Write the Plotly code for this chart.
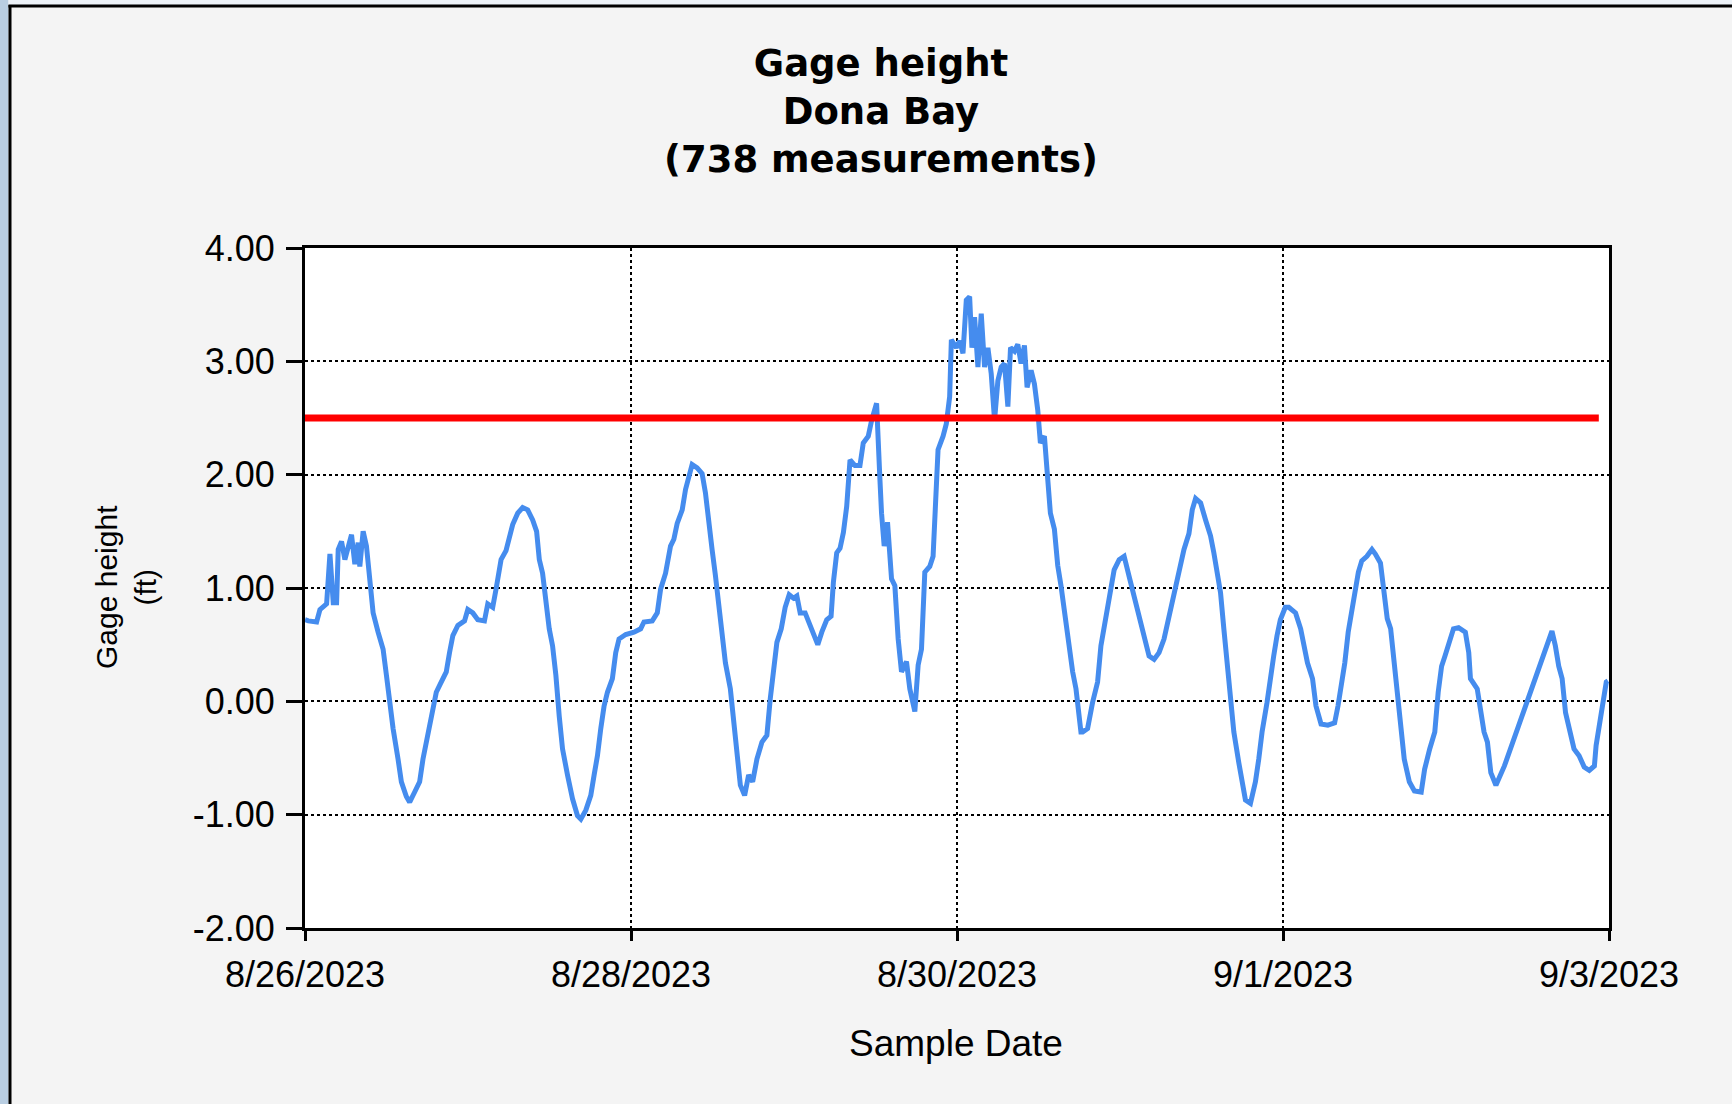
import pandas as pd
import plotly.graph_objects as go

# ---------------- data ----------------
start_time = "2023-08-26 00:00"

# elapsed hours since start_time for each plotted reading
hours = [
    0.0, 0.49, 1.71, 2.20, 3.18, 3.67, 4.16, 4.65, 4.89, 5.38, 5.87, 6.85, 7.34, 7.83, 8.07, 8.56,
    9.05, 9.54, 10.03, 10.76, 11.50, 11.99, 12.48, 12.97, 13.70, 14.19, 14.92, 15.41, 16.15, 16.88,
    17.37, 18.10, 18.59, 19.33, 19.82, 20.80, 21.28, 21.77, 22.51, 23.49, 23.97, 24.71, 25.44, 26.42,
    26.91, 27.64, 28.13, 28.87, 29.60, 30.09, 30.58, 31.32, 32.05, 32.78, 33.52, 34.10, 34.50, 34.98,
    35.47, 35.96, 36.45, 36.94, 37.43,
    37.92, 38.65, 39.39, 40.12, 40.61, 41.35, 42.08, 42.57, 43.06, 43.55, 44.04, 44.53, 45.26, 45.75,
    46.24, 47.22, 48.44, 49.42, 49.91, 51.13, 51.87, 52.36, 53.09, 53.82, 54.31, 54.80, 55.54, 56.03,
    56.51, 57.00, 57.74, 58.47, 58.96, 59.45, 59.94, 60.43, 60.92, 61.41, 61.90, 62.63, 63.12, 63.61,
    64.10, 64.73, 65.32, 65.91, 66.54, 67.28, 68.01, 68.50, 68.99, 69.48, 70.12, 70.70, 71.29, 71.93,
    72.42, 72.91, 73.64, 74.13, 74.86, 75.50, 76.09, 76.82, 77.46, 77.80, 78.29,
    78.78, 79.27, 79.76, 80.25, 80.98, 81.71, 82.20, 82.94, 83.43, 84.16, 84.40, 84.65, 84.89, 85.28,
    85.77, 86.12, 86.36, 86.85, 87.34, 87.83, 88.56, 89.05, 89.79, 90.28, 90.77, 91.26, 91.99, 92.48,
    92.82, 93.21, 93.95, 94.43, 94.92, 95.17, 95.90, 96.39, 96.88, 97.37, 97.86, 98.20, 98.59, 99.08,
    99.57, 100.06, 100.55, 101.04, 101.53, 102.02, 102.51, 103.00, 103.49, 103.88, 104.47, 104.95,
    105.44, 105.93, 106.32, 106.91, 107.40, 107.89, 108.28, 108.87, 109.36, 109.75, 110.34, 110.83,
    111.31, 111.90, 112.29, 113.03, 113.52, 114.25,
    114.50, 115.23, 115.96, 116.70, 117.19, 117.68, 118.17, 118.66, 119.14, 119.88, 120.61, 121.35,
    122.08, 122.81, 123.55, 124.28, 125.02, 125.75, 126.48, 127.22, 127.95, 128.69, 129.42, 130.15,
    130.64, 131.13, 131.87, 132.60, 133.33, 133.82, 134.31, 134.80, 135.29, 135.78, 136.27, 136.76,
    137.49, 137.98, 138.47, 139.21, 139.94, 140.43, 140.92, 141.65, 142.14, 142.63, 143.12, 143.61,
    144.34,
    144.85, 145.85, 146.60, 147.60, 148.35, 148.85, 149.60, 150.60, 151.60, 152.10, 152.60, 153.10,
    153.60, 154.10, 154.60, 155.10, 155.60, 156.35, 157.10, 157.60, 158.35, 158.85, 159.35, 159.85,
    160.35, 160.85, 161.35, 161.85, 162.60, 163.35, 164.35, 164.85, 165.60, 166.35, 166.85, 167.35,
    167.85, 168.35, 169.10, 169.85, 170.85, 171.35, 171.60, 172.60, 173.10, 173.60, 174.10, 174.60,
    175.35, 176.10, 176.60, 183.60, 184.10, 184.60, 185.10, 185.60, 186.10, 186.85, 187.60, 188.35,
    189.10, 189.85, 190.10, 190.60, 191.10, 191.60, 191.85,
]

# gage height (ft) for each reading
gage_ft = [
    0.72, 0.71, 0.70, 0.81, 0.86, 1.30, 0.87, 0.87, 1.34, 1.41, 1.25, 1.47, 1.21, 1.40, 1.19, 1.50,
    1.37, 1.05, 0.78, 0.61, 0.46, 0.23, -0.01, -0.24, -0.51, -0.71, -0.84, -0.89, -0.80, -0.71,
    -0.51, -0.27, -0.14, 0.08, 0.14, 0.26, 0.43, 0.58, 0.67, 0.71, 0.81, 0.78, 0.72, 0.71,
    0.86, 0.83, 0.99, 1.25, 1.33, 1.43, 1.56, 1.66, 1.71, 1.69, 1.60, 1.50, 1.25, 1.13,
    0.87, 0.64, 0.49, 0.23, -0.13,
    -0.42, -0.65, -0.86, -1.01, -1.04, -0.96, -0.83, -0.65, -0.48, -0.24, -0.04, 0.08, 0.20, 0.43,
    0.55, 0.59, 0.61, 0.64, 0.70, 0.71, 0.78, 0.99, 1.13, 1.37, 1.43, 1.57, 1.69, 1.87,
    1.99, 2.09, 2.06, 2.01, 1.84, 1.55, 1.34, 1.11, 0.84, 0.61, 0.34, 0.11, -0.21, -0.51,
    -0.74, -0.83, -0.65, -0.71, -0.51, -0.36, -0.30, 0.02, 0.31, 0.52, 0.64, 0.83, 0.94, 0.91,
    0.93, 0.78, 0.78, 0.70, 0.59, 0.50, 0.61, 0.72, 0.75, 1.05, 1.31,
    1.35, 1.49, 1.72, 2.13, 2.08, 2.08, 2.28, 2.34, 2.48, 2.63, 2.39, 1.96, 1.66, 1.37,
    1.58, 1.31, 1.08, 1.02, 0.55, 0.26, 0.35, 0.11, -0.09, 0.32, 0.46, 1.14, 1.19, 1.28,
    1.72, 2.22, 2.34, 2.45, 2.69, 3.19, 3.12, 3.18, 3.07, 3.54, 3.57, 3.12, 3.39, 2.95,
    3.42, 2.95, 3.12, 2.89, 2.48, 2.83, 2.95, 2.98, 2.60, 3.12, 3.09, 3.15,
    2.98, 3.14, 2.77, 2.92, 2.80, 2.57, 2.28, 2.34, 1.96, 1.66, 1.52, 1.20,
    1.02, 0.76, 0.55, 0.26, 0.11, -0.27,
    -0.27, -0.24, -0.01, 0.17, 0.49, 0.66, 0.87, 1.02, 1.16, 1.25, 1.28, 1.10,
    0.93, 0.75, 0.61, 0.40, 0.37, 0.43, 0.55, 0.75, 0.99, 1.19, 1.34, 1.48,
    1.69, 1.79, 1.75, 1.60, 1.46, 1.31, 1.13, 0.96, 0.64, 0.34, 0.05, -0.27,
    -0.54, -0.74, -0.87, -0.90, -0.71, -0.51, -0.27, -0.01, 0.23, 0.40, 0.58, 0.72,
    0.83,
    0.83, 0.78, 0.64, 0.34, 0.20, -0.04, -0.20, -0.21, -0.19, -0.04, 0.14, 0.34,
    0.61, 0.78, 0.99, 1.14, 1.24, 1.28, 1.34, 1.30, 1.22, 0.93, 0.73, 0.64,
    0.34, 0.05, -0.27, -0.51, -0.71, -0.79, -0.80, -0.60, -0.42, -0.27, 0.08, 0.31,
    0.40, 0.49, 0.64, 0.65, 0.61, 0.43, 0.20, 0.11, -0.10, -0.27, -0.36, -0.63,
    -0.74, -0.63, -0.57, 0.62, 0.49, 0.31, 0.20, -0.10, -0.24, -0.42, -0.48, -0.58,
    -0.61, -0.57, -0.39, -0.19, 0.02, 0.17, 0.18,
]

threshold_ft = 2.5
threshold_hours = [0.0, 190.5]

x_range = ["2023-08-26", "2023-09-03"]
x_ticks = ["2023-08-26", "2023-08-28", "2023-08-30", "2023-09-01", "2023-09-03"]
x_tick_labels = ["8/26/2023", "8/28/2023", "8/30/2023", "9/1/2023", "9/3/2023"]
y_ticks = [-2, -1, 0, 1, 2, 3, 4]
y_tick_labels = ["-2.00", "-1.00", "0.00", "1.00", "2.00", "3.00", "4.00"]

title_lines = ["Gage height", "Dona Bay", "(738 measurements)"]
x_title = "Sample Date"
y_title_lines = ["Gage height", "(ft)"]

# ---------------- build ----------------
t0 = pd.Timestamp(start_time)
times = [t0 + pd.Timedelta(hours=h) for h in hours]
thr_times = [t0 + pd.Timedelta(hours=h) for h in threshold_hours]

W, H = 1732, 1104
ML, MR, MT, MB = 305, 123, 248, 176
PW, PH = W - ML - MR, H - MT - MB


def px_x(px):
    return (px - ML) / PW


def px_y(py):
    return (H - MB - py) / PH


fig = go.Figure()
fig.add_trace(go.Scatter(
    x=times, y=gage_ft, mode="lines",
    line=dict(color="#458cee", width=5),
    showlegend=False, hoverinfo="x+y",
))
fig.add_trace(go.Scatter(
    x=thr_times, y=[threshold_ft, threshold_ft], mode="lines",
    line=dict(color="#ff0000", width=7),
    showlegend=False, hoverinfo="y",
))

tick_font = dict(family="Liberation Sans, Arial, sans-serif", size=36, color="#000000")

fig.update_layout(
    width=W, height=H, autosize=False,
    margin=dict(l=ML, r=MR, t=MT, b=MB, pad=0),
    paper_bgcolor="#f4f4f4",
    plot_bgcolor="#ffffff",
    xaxis=dict(
        type="date", range=x_range,
        tickmode="array", tickvals=x_ticks, ticktext=x_tick_labels,
        tickfont=tick_font,
        ticks="outside", ticklen=10, tickwidth=3, tickcolor="#000000",
        ticklabelstandoff=3,
        showline=True, linecolor="#000000", linewidth=3, mirror=True,
        showgrid=True, gridcolor="#000000", gridwidth=2, griddash="3px,3px",
        zeroline=False,
    ),
    yaxis=dict(
        range=[-2, 4],
        tickmode="array", tickvals=y_ticks, ticktext=y_tick_labels,
        tickfont=tick_font,
        ticks="outside", ticklen=16, tickwidth=3, tickcolor="#000000",
        ticklabelstandoff=4,
        showline=True, linecolor="#000000", linewidth=3, mirror=True,
        showgrid=True, gridcolor="#000000", gridwidth=2, griddash="3px,3px",
        zeroline=False,
    ),
    shapes=[
        # window edge strips and frame
        dict(type="rect", xref="paper", yref="paper",
             x0=px_x(0), x1=px_x(8.5), y0=px_y(0), y1=px_y(H),
             fillcolor="#b9cee2", line=dict(width=0), layer="above"),
        dict(type="rect", xref="paper", yref="paper",
             x0=px_x(8.5), x1=px_x(W), y0=px_y(0), y1=px_y(5),
             fillcolor="#edf2f8", line=dict(width=0), layer="above"),
        dict(type="line", xref="paper", yref="paper",
             x0=px_x(10), x1=px_x(10), y0=px_y(5), y1=px_y(H),
             line=dict(color="#000000", width=3), layer="above"),
        dict(type="line", xref="paper", yref="paper",
             x0=px_x(8.5), x1=px_x(W), y0=px_y(6), y1=px_y(6),
             line=dict(color="#000000", width=3), layer="above"),
    ],
    annotations=[
        dict(text="<b>" + "<br>".join(title_lines) + "</b>",
             xref="paper", yref="paper", x=px_x(881), y=px_y(111),
             xanchor="center", yanchor="middle", align="center", showarrow=False,
             font=dict(family="DejaVu Sans, Verdana, sans-serif", size=37, color="#000000")),
        dict(text=x_title, xref="paper", yref="paper", x=px_x(956), y=px_y(1043),
             xanchor="center", yanchor="middle", showarrow=False,
             font=dict(family="Liberation Sans, Arial, sans-serif", size=37, color="#000000")),
        dict(text="<br>".join(y_title_lines), xref="paper", yref="paper",
             x=px_x(126), y=px_y(587), textangle=-90,
             xanchor="center", yanchor="middle", align="center", showarrow=False,
             font=dict(family="Liberation Sans, Arial, sans-serif", size=30, color="#000000")),
    ],
)

fig.write_html(
    "out.html",
    config={"displayModeBar": False},
    post_script="document.body.style.margin='0';document.body.style.overflow='hidden';",
)
